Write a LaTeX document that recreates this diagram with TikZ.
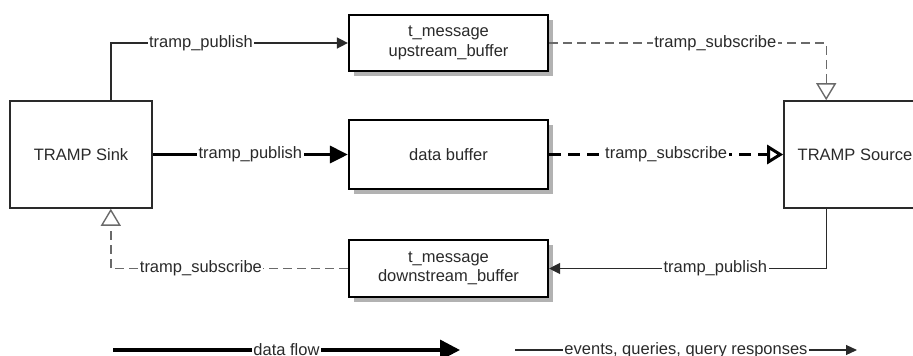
\documentclass[tikz,border=0pt]{standalone}
\usepackage{fontspec}
\setmainfont{Liberation Sans}
\usetikzlibrary{arrows.meta,shadows,calc}
\definecolor{ink}{HTML}{2A2A2A}
\definecolor{dashgray}{HTML}{6A6A6A}
\begin{document}
\begin{tikzpicture}[x=1pt,y=-1pt,
  font=\fontsize{16.5}{19.5}\selectfont,
  endbox/.style={draw=ink, line width=1.6pt, fill=white, minimum width=142pt,
    minimum height=107pt, inner sep=0pt, text=ink},
  buf/.style={draw=black, line width=2.2pt, fill=white, minimum width=199pt,
    inner sep=0pt, align=center, text=ink,
    drop shadow={shadow xshift=4.5pt, shadow yshift=-4.5pt, fill=black!30, opacity=1}},
  lbl/.style={fill=white, text=ink, inner sep=1.5pt},
  pub/.style={draw=ink, line width=1.4pt, -{Triangle[length=11pt,width=11pt]}},
  sub/.style={draw=dashgray, line width=1.4pt, dash pattern=on 9pt off 5pt,
    -{Triangle[open,length=17pt,width=20pt]}},
  datapub/.style={draw=black, line width=3pt, -{Triangle[length=18pt,width=17pt]}},
  datasub/.style={draw=black, line width=3pt, dash pattern=on 12pt off 7pt,
    -{Triangle[open,length=16pt,width=19pt]}}
]
\useasboundingbox (0,0) rectangle (913,356);

% end points
\node[endbox] (sink) at (81,154.5) {TRAMP Sink};
\node[endbox] (src) at (855,154.5) {TRAMP Source};

% buffers
\node[buf, minimum height=56pt] (up) at (448.5,43) {t\_message\\upstream\_buffer};
\node[buf, minimum height=69pt] (data) at (448.5,154.5) {data buffer};
\node[buf, minimum height=57pt] (down) at (448.5,268.5) {t\_message\\downstream\_buffer};

% upstream messages
\draw[pub] ([xshift=-42pt]sink.north east) |- node[lbl, pos=0.69] {tramp\_publish} (up.west);
\draw[sub] (up.east) -| node[lbl, pos=0.3] {tramp\_subscribe} ([xshift=43pt]src.north west);

% data path
\draw[datapub] (sink.east) -- node[lbl] {tramp\_publish} (data.west);
\draw[datasub] (data.east) -- node[lbl] {tramp\_subscribe} (src.west);

% downstream messages
\draw[pub] ([xshift=43pt]src.south west) |- node[lbl, pos=0.7] {tramp\_publish} (down.east);
\draw[sub] (down.west) -| node[lbl, pos=0.31] {tramp\_subscribe} ([xshift=-42pt]sink.south east);

% legend
\coordinate (dfA) at (113,350);
\coordinate (dfB) at (460,350);
\coordinate (evA) at (515,350);
\coordinate (evB) at (857,350);
\draw[draw=black, line width=3.5pt, -{Triangle[length=20pt,width=20pt]}]
  (dfA) -- node[lbl] {data flow} (dfB);
\draw[draw=ink, line width=1.2pt, -{Triangle[length=11pt,width=10pt]}]
  (evA) -- node[lbl] {events, queries, query responses} (evB);
\end{tikzpicture}
\end{document}
